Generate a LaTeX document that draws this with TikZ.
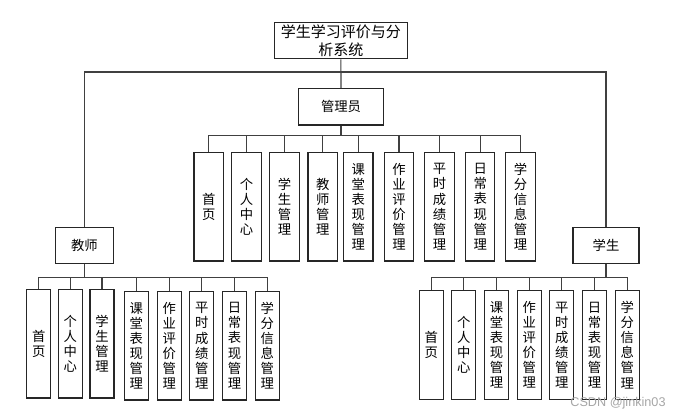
\documentclass[tikz,border=0pt]{standalone}
\usepackage{fontspec}
\setmainfont{Noto Sans CJK SC}
\newfontfamily\wmfont{Liberation Sans}
\tikzset{
  box/.style={draw=black!85, line width=0.9pt, inner sep=0pt, align=center, font=\fontsize{10}{11.3}\selectfont},
  vbox/.style={box, minimum width=22pt, minimum height=81.5pt},
  nbox/.style={box, minimum width=18pt, minimum height=81.5pt},
  link/.style={draw=black!75, line width=0.9pt}
}
\begin{document}
\begin{tikzpicture}[x=0.75pt, y=-0.75pt]
\useasboundingbox (0,0) rectangle (683,420);
% top levels
\node[box, minimum width=99.75pt, minimum height=27.3pt, font=\fontsize{11.25}{13.5}\selectfont] (sys) at (340.8,40.5) {学生学习评价与分\\析系统};
\node[box, minimum width=64pt, minimum height=27.2pt] (adm) at (341,106.8) {管理员};
\node[box, minimum width=43.8pt, minimum height=27.3pt] (tea) at (84.5,245.5) {教师};
\node[box, minimum width=49.5pt, minimum height=27.3pt] (stu) at (606,245.5) {学生};
\coordinate (jr) at (341,72);
\coordinate (ab) at (341,135.7);
\coordinate (tb) at (84.5,277.3);
\coordinate (sb) at (606,277.3);
% admin modules
\node[vbox] (a1) at (208.7,206.7) {首\\页};
\node[vbox] (a2) at (246.5,206.7) {个\\人\\中\\心};
\node[vbox] (a3) at (284.5,206.7) {学\\生\\管\\理};
\node[vbox] (a4) at (322.7,206.7) {教\\师\\管\\理};
\node[vbox] (a5) at (358.3,206.7) {课\\堂\\表\\现\\管\\理};
\node[vbox] (a6) at (399,206.7) {作\\业\\评\\价\\管\\理};
\node[vbox] (a7) at (439.5,206.7) {平\\时\\成\\绩\\管\\理};
\node[vbox] (a8) at (480.2,206.7) {日\\常\\表\\现\\管\\理};
\node[vbox] (a9) at (520.5,206.7) {学\\分\\信\\息\\管\\理};
% teacher modules
\node[nbox] (t1) at (38.7,343.7) {首\\页};
\node[nbox] (t2) at (70.3,343.7) {个\\人\\中\\心};
\node[nbox] (t3) at (102,343.7) {学\\生\\管\\理};
\node[nbox] (t4) at (136.3,345.7) {课\\堂\\表\\现\\管\\理};
\node[nbox] (t5) at (169.2,345.7) {作\\业\\评\\价\\管\\理};
\node[nbox] (t6) at (201.8,345.7) {平\\时\\成\\绩\\管\\理};
\node[nbox] (t7) at (234.5,345.7) {日\\常\\表\\现\\管\\理};
\node[nbox] (t8) at (267.3,345.7) {学\\分\\信\\息\\管\\理};
% student modules
\node[nbox] (s1) at (431.2,345) {首\\页};
\node[nbox] (s2) at (463.8,345) {个\\人\\中\\心};
\node[nbox] (s3) at (496.5,345) {课\\堂\\表\\现\\管\\理};
\node[nbox] (s4) at (529.2,345) {作\\业\\评\\价\\管\\理};
\node[nbox] (s5) at (561.8,345) {平\\时\\成\\绩\\管\\理};
\node[nbox] (s6) at (594.5,345) {日\\常\\表\\现\\管\\理};
\node[nbox] (s7) at (627.2,345) {学\\分\\信\\息\\管\\理};
% connectors
\draw[link] (sys) -- (adm);
\draw[link] (tea) |- (jr) -| (stu);
\draw[link] (adm) -- (ab);
\draw[link] (ab) -| (a1); \draw[link] (ab) -| (a2); \draw[link] (ab) -| (a3);
\draw[link] (ab) -| (a4); \draw[link] (ab) -| (a5); \draw[link] (ab) -| (a6);
\draw[link] (ab) -| (a7); \draw[link] (ab) -| (a8); \draw[link] (ab) -| (a9);
\draw[link] (tea) -- (tb);
\draw[link] (tb) -| (t1); \draw[link] (tb) -| (t2); \draw[link] (tb) -| (t3);
\draw[link] (tb) -| (t4); \draw[link] (tb) -| (t5); \draw[link] (tb) -| (t6);
\draw[link] (tb) -| (t7); \draw[link] (tb) -| (t8);
\draw[link] (stu) -- (sb);
\draw[link] (sb) -| (s1); \draw[link] (sb) -| (s2); \draw[link] (sb) -| (s3);
\draw[link] (sb) -| (s4); \draw[link] (sb) -| (s5); \draw[link] (sb) -| (s6);
\draw[link] (sb) -| (s7);
\node[font=\wmfont\fontsize{9.5}{11}\selectfont, text=gray!70] (wm) at (618,403) {CSDN @jinkin03};
\end{tikzpicture}
\end{document}
